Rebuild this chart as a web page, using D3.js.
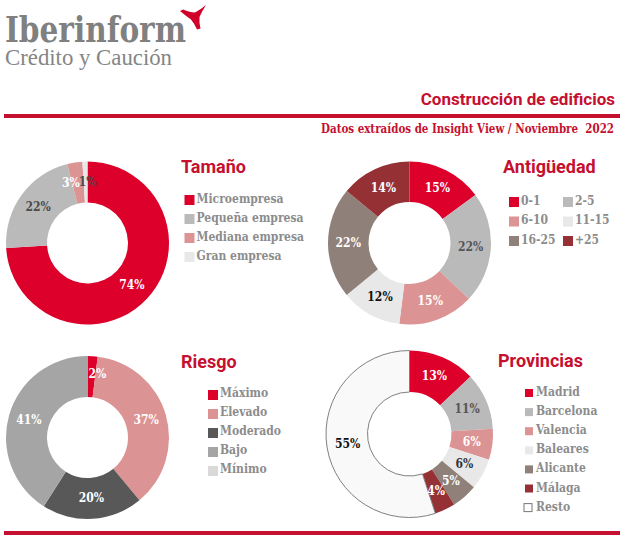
<!DOCTYPE html>
<html lang="es">
<head>
<meta charset="UTF-8">
<title>Construcción de edificios</title>
<style>
    html, body { margin: 0; padding: 0; background: #fff; }
    svg { display: block; }
    .title { font-family: Roboto, sans-serif; font-weight: 700; font-size: 18px; fill: #c5102f; }
    .legend-text { font-family: "DejaVu Serif Condensed", "DejaVu Serif", serif; font-stretch: condensed; font-weight: 700; font-size: 12px; fill: #8c8c8c; }
    .pct { font-family: "DejaVu Serif Condensed", "DejaVu Serif", serif; font-stretch: condensed; font-weight: 700; font-size: 12px; text-anchor: middle; dominant-baseline: central; }
</style>
</head>
<body>
<div id="chart"></div>
<script src="https://d3js.org/d3.v7.min.js"></script>
<script>
const tamanoCats = ["Microempresa", "Pequeña empresa", "Mediana empresa", "Gran empresa"];
const tamanoVals = [74, 22, 3, 1];
const antiguedadCats = ["0-1", "2-5", "6-10", "11-15", "16-25", "+25"];
const antiguedadVals = [15, 22, 15, 12, 22, 14];
const riesgoCats = ["Máximo", "Elevado", "Moderado", "Bajo", "Mínimo"];
const riesgoVals = [2, 37, 20, 41, 0];
const provinciasCats = ["Madrid", "Barcelona", "Valencia", "Baleares", "Alicante", "Málaga", "Resto"];
const provinciasVals = [13, 11, 6, 6, 5, 4, 55];

const red = "#dc002b", grey = "#bababa", pink = "#db9393", pale = "#e8e8e8",
      taupe = "#8f807a", wine = "#953135", white = "#f9f9f9";

const svg = d3.select("#chart").append("svg").attr("width", 627).attr("height", 541);

// logo
svg.append("text").text("Iberinform").attr("x", 5).attr("y", 42)
    .attr("textLength", 181).attr("lengthAdjust", "spacingAndGlyphs")
    .style("font", "700 35px 'DejaVu Serif', serif").attr("fill", "#808080");
svg.append("text").text("Crédito y Caución").attr("x", 5).attr("y", 65)
    .attr("textLength", 167).attr("lengthAdjust", "spacingAndGlyphs")
    .style("font", "400 24px 'Liberation Serif', serif").attr("fill", "#858585");
svg.append("path").attr("d", "M180 11 L183 9.5 Q190 12.5 195 12.5 Q200 10 206 5 Q202 11 199.5 17 Q199 23 200.5 28.5 L197 29.5 Q194 23 191 19.5 Q186 16 180 11 Z")
    .attr("fill", "#d0002b");

// header
svg.append("text").text("Construcción de edificios").attr("x", 615).attr("y", 105)
    .attr("text-anchor", "end").attr("class", "title").style("font-size", "17px");
svg.append("text").text("Datos extraídos de Insight View / Noviembre  2022").attr("x", 321).attr("y", 133)
    .attr("textLength", 293).attr("lengthAdjust", "spacingAndGlyphs")
    .attr("xml:space", "preserve")
    .style("font", "700 12px 'DejaVu Serif Condensed', 'DejaVu Serif', serif").style("font-stretch", "condensed")
    .attr("fill", "#c5102f");
svg.selectAll("rect.rule").data([114, 531]).enter().append("rect").attr("class", "rule")
    .attr("x", 4).attr("width", 616).attr("y", d => d).attr("height", 4).attr("fill", "#c5102f");

const pie = d3.pie().sort(null).value(d => d);

function donut(opts) {
    const arc = d3.arc().innerRadius(opts.inner).outerRadius(opts.outer);
    const g = svg.append("g").attr("transform", `translate(${opts.cx},${opts.cy})`);
    const arcs = pie(opts.vals);

    g.selectAll("path").data(arcs).enter().append("path")
        .attr("d", arc)
        .attr("fill", (d, i) => opts.colors[i])
        .attr("stroke", (d, i) => opts.strokes && opts.strokes[i] ? opts.strokes[i] : "none")
        .attr("stroke-width", 1);

    g.selectAll("text").data(arcs.filter(d => d.value > 0)).enter().append("text")
        .attr("class", "pct")
        .attr("transform", (d, i) => {
            const c = arc.centroid(d), n = (opts.nudge && opts.nudge[i]) || [0, 0];
            return `translate(${c[0] + n[0]},${c[1] + n[1]})`;
        })
        .attr("fill", (d, i) => opts.labelColors[i])
        .text(d => d.value + "%");

    svg.append("text").attr("class", "title").attr("x", opts.titleX).attr("y", opts.titleY).text(opts.title);

    const leg = svg.append("g").selectAll("g").data(opts.cats).enter().append("g")
        .attr("transform", (d, i) => {
            const col = opts.colStep ? i % 2 : 0, row = opts.colStep ? Math.floor(i / 2) : i;
            return `translate(${opts.legX + col * (opts.colStep || 0)},${opts.legY + row * opts.legStep})`;
        });
    leg.append("rect")
        .attr("x", (d, i) => opts.outline && opts.outline[i] ? -1 : 0)
        .attr("width", opts.swatch).attr("height", opts.swatch)
        .attr("fill", (d, i) => opts.outline && opts.outline[i] ? "#fff" : opts.colors[i])
        .attr("stroke", (d, i) => opts.outline && opts.outline[i] ? "#777" : "none");
    leg.append("text").attr("class", "legend-text")
        .attr("x", opts.textDx).attr("y", opts.textDy).attr("dominant-baseline", "central")
        .text(d => d);
}

donut({
    title: "Tamaño", titleX: 181, titleY: 173,
    cats: tamanoCats, vals: tamanoVals, cx: 87.5, cy: 243, outer: 81.5, inner: 40.5,
    colors: [red, grey, pink, pale],
    labelColors: ["#fff", "#4a4a4a", "#fff", "#4a4a4a"],
    nudge: [[0, 0], [0, 0], [-7, 0], [2, 0]],
    legX: 184.5, legY: 195, legStep: 19, swatch: 10, textDx: 12, textDy: 3.5
});
donut({
    title: "Antigüedad", titleX: 503, titleY: 173,
    cats: antiguedadCats, vals: antiguedadVals, cx: 409.5, cy: 243, outer: 81.5, inner: 41,
    colors: [red, grey, pink, pale, taupe, wine],
    labelColors: ["#fff", "#555", "#fff", "#111", "#fff", "#fff"],
    legX: 509, legY: 197, legStep: 19.5, colStep: 54, swatch: 10, textDx: 12, textDy: 3.5
});
donut({
    title: "Riesgo", titleX: 181, titleY: 368,
    cats: riesgoCats, vals: riesgoVals, cx: 87.5, cy: 437.5, outer: 81.5, inner: 40.5,
    colors: [red, pink, "#585858", "#a5a5a5", "#d9d9d9"],
    labelColors: ["#fff", "#fff", "#fff", "#fff", "#fff"],
    nudge: [[6, -3], [0, 0], [0, 0], [0, 0]],
    legX: 208, legY: 390, legStep: 19, swatch: 10, textDx: 12, textDy: 2.5
});
donut({
    title: "Provincias", titleX: 498, titleY: 367,
    cats: provinciasCats, vals: provinciasVals, cx: 409.5, cy: 434, outer: 83.5, inner: 42,
    colors: [red, grey, pink, pale, taupe, wine, white],
    strokes: [null, null, null, null, null, null, "#808080"],
    labelColors: ["#fff", "#555", "#fff", "#333", "#fff", "#fff", "#111"],
    outline: [0, 0, 0, 0, 0, 0, 1],
    legX: 525, legY: 389, legStep: 19.1, swatch: 8, textDx: 11, textDy: 3
});
</script>
</body>
</html>
